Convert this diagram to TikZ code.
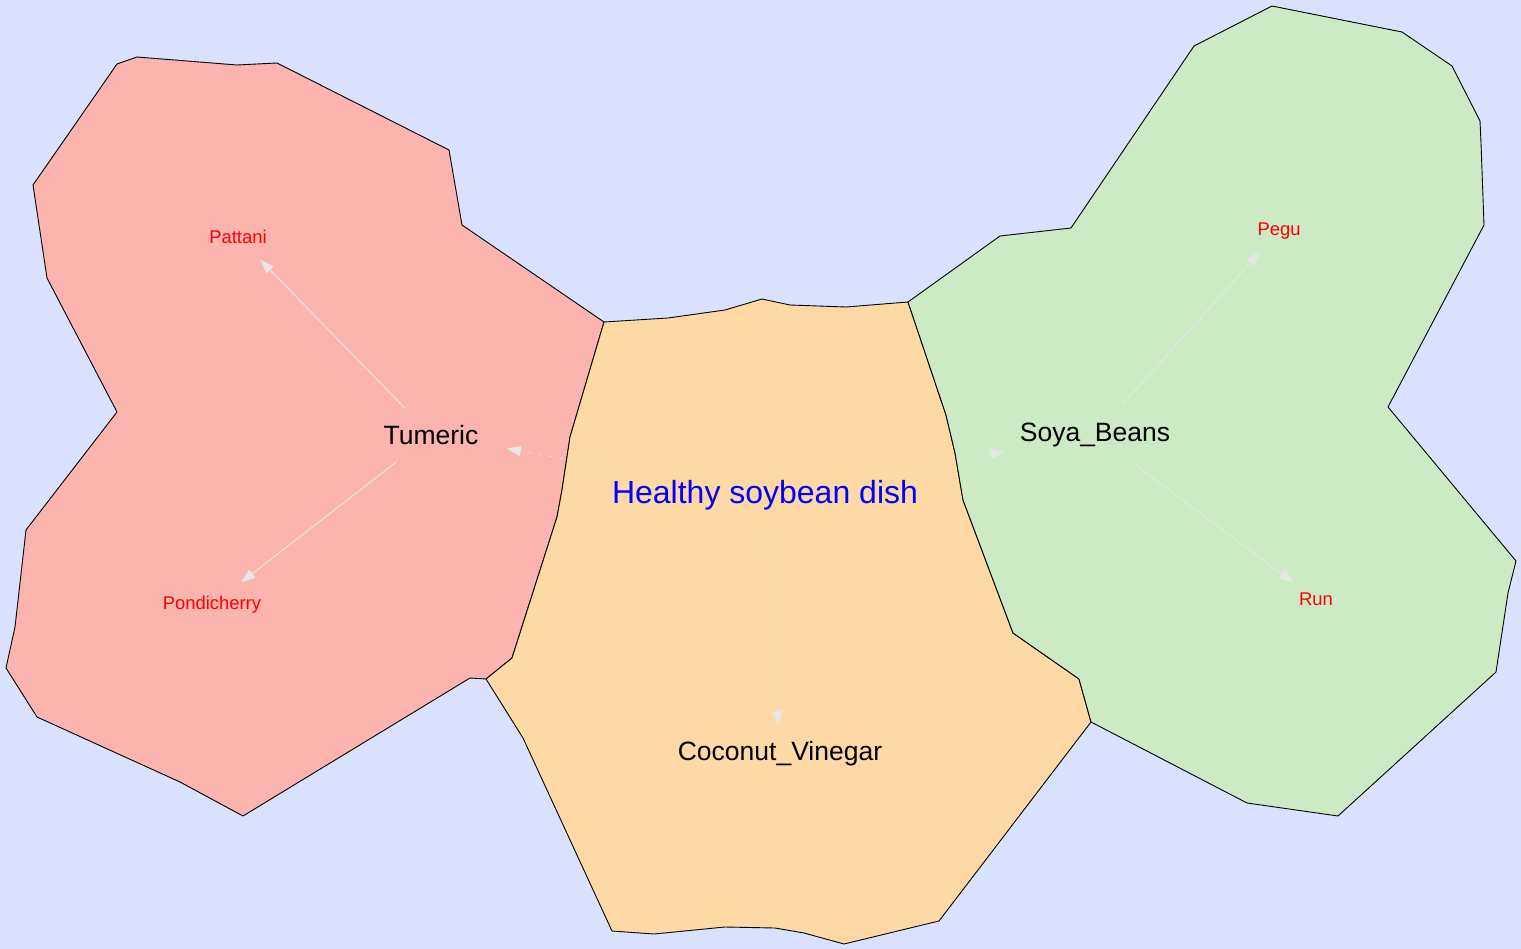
\documentclass[tikz,border=0pt]{standalone}
\usepackage{fontspec}
\setmainfont{Liberation Sans}
\usetikzlibrary{arrows.meta}
\definecolor{mapBack}{RGB}{217,225,255}
\definecolor{regRed}{RGB}{251,180,174}
\definecolor{regOrange}{RGB}{254,217,166}
\definecolor{regGreen}{RGB}{204,235,197}
\definecolor{linkGray}{RGB}{230,230,230}

\tikzset{
  region/.style={draw=black, line width=0.9pt, line join=round},
  hub/.style={text=blue, font=\fontsize{32}{38}\selectfont, inner sep=0pt},
  item/.style={text=black, font=\fontsize{26.5}{32}\selectfont, inner sep=0pt},
  place/.style={text=red, font=\fontsize{18.4}{22}\selectfont, inner sep=0pt},
  link/.style={draw=linkGray, fill=linkGray, line width=1pt, -{Triangle[length=14pt,width=10pt]}},
  dotlink/.style={link, dash pattern=on 1.5pt off 9pt},
}

\begin{document}
\begin{tikzpicture}[x=1pt, y=-1pt]
      \fill[mapBack] (0,0) rectangle (1521,949);
      \useasboundingbox (0,0) rectangle (1521,949);

      % regions
      \draw[region, fill=regRed] (117,64) -- (137,57) -- (237,65) -- (277,63) -- (449,150) -- (462,225)
        -- (604,322) -- (570,437) -- (562,490) -- (557,517) -- (512,658) -- (486,679) -- (470,678)
        -- (243,816) -- (180,782) -- (37,717) -- (6,668) -- (15,627) -- (26,530) -- (117,412)
        -- (47,278) -- (33,185) -- cycle;
      \draw[region, fill=regOrange] (604,322) -- (668,318) -- (725,310) -- (762,299) -- (790,305)
        -- (846,307) -- (908,302) -- (946,415) -- (955,453) -- (963,500) -- (1013,633) -- (1079,679)
        -- (1091,722) -- (939,921) -- (844,944) -- (804,933) -- (775,928) -- (725,927) -- (654,934)
        -- (612,931) -- (523,738) -- (486,679) -- (512,658) -- (557,517) -- (562,490) -- (570,437) -- cycle;
      \draw[region, fill=regGreen] (908,302) -- (1000,236) -- (1071,228) -- (1194,46) -- (1272,6)
        -- (1402,32) -- (1452,66) -- (1480,121) -- (1481,143) -- (1484,225) -- (1388,407) -- (1516,561)
        -- (1508,593) -- (1496,672) -- (1338,816) -- (1247,803) -- (1091,722) -- (1079,679) -- (1013,633)
        -- (963,500) -- (955,453) -- (946,415) -- cycle;

      % labels
      \node[hub] (dish) at (765,495) {Healthy soybean dish};
      \node[item] (tum) at (431,435) {Tumeric};
      \node[item] (soy) at (1095,435) {Soya\_Beans};
      \node[item] (coco) at (780,754) {Coconut\_Vinegar};
      \node[place] (pat) at (238,237) {Pattani};
      \node[place] (pon) at (212,605) {Pondicherry};
      \node[place] (peg) at (1279,231) {Pegu};
      \node[place] (run) at (1316,599) {Run};

      % links
      \draw[dotlink, shorten <=154pt, shorten >=77pt] (dish.center) -- (tum.center);
      \draw[dotlink, shorten <=144pt, shorten >=92pt] (dish.center) -- (soy.center);
      \draw[dotlink, shorten <=36pt, shorten >=29pt] (dish.center) -- (coco.center);
      \draw[link, shorten <=37pt, shorten >=32pt] (tum.center) -- (pat.center);
      \draw[link, shorten <=43pt, shorten >=37pt] (tum.center) -- (pon.center);
      \draw[link, shorten <=40pt, shorten >=28pt] (soy.center) -- (peg.center);
      \draw[link, shorten <=49pt, shorten >=28pt] (soy.center) -- (run.center);
\end{tikzpicture}
\end{document}
